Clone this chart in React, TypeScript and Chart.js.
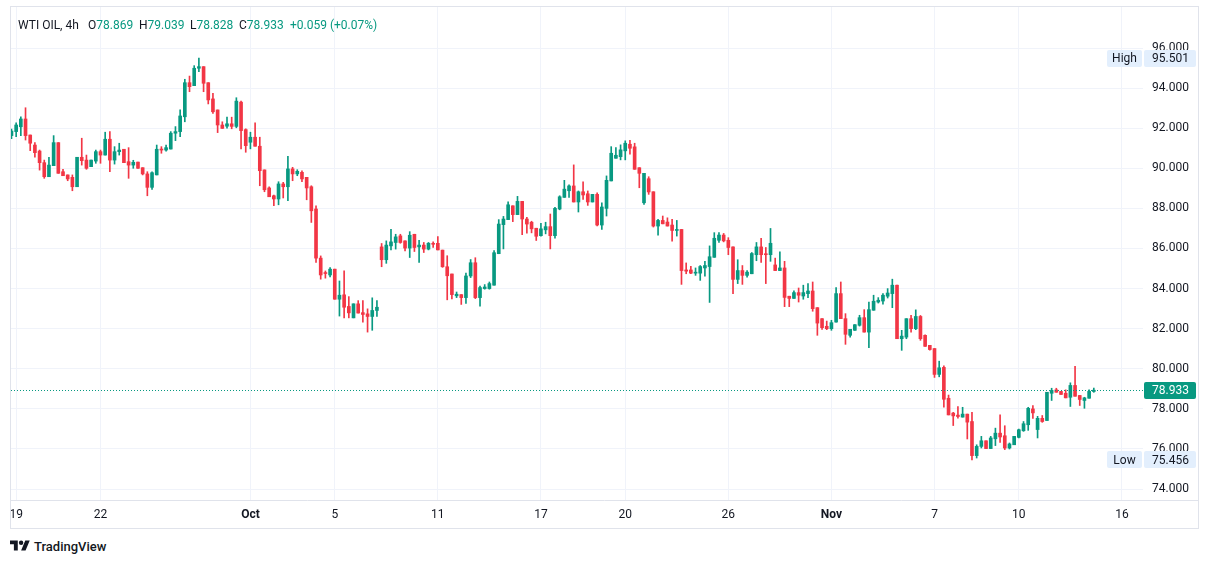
import { useEffect, useRef } from 'react';
import { Chart, registerables } from 'chart.js';

Chart.register(...registerables);

// WTI OIL 4h candles (Sep 19 -> Nov 14)
const opens = [
  91.63, 91.83, 92.07, 92.46, 91.66, 91.16, 90.86, 90.28, 89.58, 90.13,
  91.28, 89.83, 89.67, 89.55, 89.08, 90.55, 90.41, 90.08, 90.36, 90.83,
  90.66, 91.45, 90.41, 90.83, 90.95, 90.33, 90.16, 90.31, 90.03, 89.72,
  89.05, 89.67, 90.96, 90.91, 90.96, 91.75, 91.83, 92.57, 94.27, 94.12,
  94.99, 95.07, 94.27, 93.46, 92.91, 92.16, 92.1, 92.22, 92.09, 93.3,
  91.93, 91.3, 91.55, 91.1, 89.92, 89.02, 88.63, 88.47, 89.22, 89.08,
  89.97, 89.72, 89.8, 89.55, 89.08, 87.97, 85.52, 84.8, 84.68, 84.97,
  83.47, 83.69, 83.11, 82.54, 83.24, 82.8, 82.74, 82.61, 82.91, 86.08,
  85.44, 86.13, 86.3, 86.63, 86.38, 86.02, 86.71, 86.08, 86.17, 85.97,
  86.26, 86.26, 85.92, 85.09, 84.73, 83.64, 83.7, 83.55, 84.63, 85.29,
  83.55, 84.0, 84.0, 84.17, 85.74, 87.19, 87.44, 88.13, 87.69, 88.35,
  87.47, 87.31, 87.01, 86.64, 86.93, 87.09, 86.64, 87.97, 88.55, 88.88,
  89.12, 88.32, 88.83, 88.73, 88.32, 88.7, 87.17, 88.0, 89.37, 90.5,
  90.58, 90.87, 91.2, 91.07, 90.03, 88.28, 89.48, 88.83, 87.12, 87.4,
  87.32, 87.17, 86.9, 86.95, 84.93, 84.93, 84.77, 84.77, 85.03, 85.1,
  85.56, 86.41, 86.67, 86.41, 86.08, 84.46, 84.9, 84.66, 84.74, 85.69,
  86.08, 85.72, 85.69, 85.18, 84.9, 85.03, 83.62, 83.51, 83.8, 83.63,
  83.75, 83.88, 83.05, 82.5, 82.12, 82.0, 82.33, 83.75, 82.5, 81.67,
  81.92, 82.17, 82.55, 81.83, 82.92, 83.33, 83.38, 83.62, 83.75, 84.17,
  81.5, 81.58, 82.5, 82.0, 82.61, 81.67, 81.17, 81.01, 79.72, 80.07,
  78.53, 77.79, 77.69, 77.59, 77.74, 77.37, 75.67, 76.13, 76.41, 76.02,
  76.51, 76.79, 76.66, 76.05, 76.21, 76.58, 76.91, 77.21, 78.0, 76.97,
  77.53, 77.42, 78.78, 78.95, 78.87, 78.78, 78.58, 79.17, 78.67, 78.42,
  78.53, 78.869,
];

const highs = [
  91.95, 92.27, 92.57, 93.02, 91.66, 91.28, 90.91, 90.41, 90.55, 91.63,
  91.28, 89.95, 89.67, 89.67, 90.55, 91.5, 90.66, 90.41, 90.91, 90.91,
  91.8, 91.83, 91.08, 91.25, 90.95, 91.03, 90.4, 90.31, 90.03, 89.83,
  89.83, 91.16, 91.08, 91.16, 91.83, 92.08, 92.91, 94.44, 94.6, 95.12,
  95.501, 95.07, 94.27, 93.74, 92.91, 92.32, 92.55, 92.55, 93.52, 93.35,
  91.97, 91.8, 92.27, 91.55, 89.92, 89.08, 88.67, 89.33, 89.3, 90.6,
  90.05, 89.93, 89.88, 89.55, 89.13, 88.13, 85.63, 84.88, 85.05, 84.97,
  84.38, 84.89, 83.6, 83.24, 83.4, 83.4, 82.99, 83.54, 83.4, 86.25,
  86.38, 86.96, 86.71, 86.71, 86.38, 86.84, 86.71, 86.41, 86.3, 86.3,
  86.33, 86.6, 85.92, 85.64, 84.73, 83.83, 83.7, 84.78, 85.45, 85.54,
  84.13, 84.2, 84.33, 85.9, 87.44, 87.6, 88.33, 88.13, 88.6, 88.35,
  87.55, 87.36, 87.01, 87.26, 87.31, 87.72, 88.05, 88.63, 89.4, 89.17,
  90.17, 88.87, 89.32, 88.87, 88.7, 88.78, 88.28, 89.62, 91.08, 91.03,
  91.17, 91.37, 91.4, 91.25, 90.03, 89.75, 89.58, 88.83, 87.45, 87.62,
  87.53, 87.45, 87.4, 86.95, 85.28, 85.11, 85.03, 85.15, 85.36, 86.13,
  86.79, 86.79, 86.75, 86.54, 86.08, 85.44, 85.15, 84.9, 85.8, 86.3,
  86.51, 86.05, 87.0, 85.52, 85.84, 85.36, 83.62, 83.89, 84.03, 84.17,
  84.25, 84.33, 83.05, 82.5, 82.38, 82.42, 84.05, 84.33, 82.75, 81.97,
  82.2, 82.67, 82.95, 83.33, 83.67, 83.55, 83.75, 84.0, 84.47, 84.17,
  81.92, 82.5, 82.67, 82.94, 82.66, 81.7, 81.17, 81.01, 80.38, 80.15,
  78.69, 77.83, 78.12, 78.08, 77.74, 77.83, 76.21, 76.63, 76.41, 76.63,
  77.04, 77.7, 77.16, 76.3, 76.63, 76.99, 77.37, 78.08, 78.17, 77.63,
  77.67, 78.83, 79.03, 79.03, 78.87, 78.95, 79.3, 80.12, 78.67, 78.58,
  78.95, 79.039,
];

const lows = [
  91.48, 91.58, 91.63, 91.41, 90.88, 90.55, 89.91, 89.5, 89.58, 90.13,
  89.75, 89.63, 89.38, 88.88, 89.08, 90.16, 89.95, 90.08, 90.25, 90.25,
  90.66, 89.83, 90.21, 90.66, 90.28, 89.5, 90.0, 90.0, 89.67, 88.63,
  88.95, 89.67, 90.75, 90.86, 90.96, 91.38, 91.58, 92.32, 93.82, 94.12,
  94.82, 93.82, 93.21, 92.74, 91.78, 91.99, 92.0, 91.97, 92.02, 90.97,
  90.8, 90.97, 91.1, 89.13, 88.83, 88.58, 88.13, 88.18, 88.52, 88.38,
  89.38, 89.63, 89.33, 88.43, 87.3, 85.3, 84.47, 84.52, 84.58, 83.47,
  82.63, 82.54, 82.54, 82.54, 82.78, 82.33, 81.83, 81.92, 82.61, 85.09,
  85.26, 85.93, 85.97, 86.26, 85.88, 85.55, 85.85, 85.31, 85.8, 85.93,
  86.05, 85.93, 85.06, 83.44, 83.49, 83.55, 83.21, 83.26, 84.55, 83.5,
  83.12, 83.97, 83.97, 84.17, 85.74, 85.98, 87.44, 87.34, 87.69, 86.69,
  86.76, 86.78, 86.4, 86.61, 86.73, 85.98, 86.51, 87.93, 88.55, 88.55,
  88.32, 87.82, 88.45, 88.15, 88.32, 87.12, 86.95, 87.62, 89.37, 90.5,
  90.42, 90.42, 90.7, 89.95, 89.03, 88.2, 88.7, 87.07, 86.67, 87.23,
  87.12, 86.37, 86.62, 84.21, 84.74, 84.74, 84.66, 84.41, 84.62, 83.31,
  85.56, 86.3, 86.33, 85.69, 83.75, 84.25, 84.21, 84.57, 84.74, 85.39,
  85.31, 84.25, 85.36, 84.9, 84.9, 83.1, 83.1, 83.51, 83.33, 83.47,
  83.55, 82.87, 81.67, 81.97, 81.95, 81.92, 82.33, 82.5, 81.22, 81.58,
  81.92, 82.13, 81.83, 81.05, 82.92, 83.28, 83.22, 83.53, 83.05, 81.5,
  80.92, 81.5, 81.83, 81.95, 81.42, 81.12, 80.93, 79.57, 79.6, 78.08,
  77.7, 77.17, 77.54, 77.59, 76.5, 75.456, 75.55, 76.05, 76.02, 76.02,
  76.17, 76.33, 75.97, 76.0, 76.21, 76.55, 76.88, 76.93, 77.53, 76.55,
  77.33, 77.42, 78.42, 78.83, 78.72, 78.55, 78.12, 78.63, 78.17, 78.03,
  78.53, 78.828,
];

const closes = [
  91.86, 92.16, 92.46, 91.63, 91.25, 90.78, 90.28, 89.58, 90.16, 91.28,
  89.75, 89.63, 89.47, 89.08, 90.55, 90.38, 90.0, 90.41, 90.83, 90.66,
  91.45, 90.41, 90.83, 90.91, 90.28, 90.16, 90.3, 90.0, 89.72, 89.05,
  89.78, 90.95, 90.91, 91.03, 91.75, 91.83, 92.61, 94.27, 94.07, 94.99,
  95.07, 94.24, 93.41, 92.82, 92.16, 91.99, 92.22, 92.09, 93.35, 91.88,
  91.13, 91.55, 91.1, 89.88, 88.93, 88.58, 88.47, 89.22, 89.08, 89.97,
  89.72, 89.85, 89.47, 89.02, 87.88, 85.52, 84.68, 84.75, 84.97, 83.47,
  83.67, 83.07, 82.79, 83.24, 82.78, 82.71, 82.61, 82.91, 83.07, 85.44,
  86.17, 86.33, 86.58, 86.3, 86.02, 86.66, 86.05, 86.17, 85.97, 86.26,
  86.21, 85.93, 85.09, 84.64, 83.7, 83.72, 83.55, 84.63, 85.29, 83.55,
  84.05, 84.08, 84.25, 85.79, 87.22, 87.47, 88.18, 87.69, 88.35, 87.47,
  87.22, 86.98, 86.61, 86.98, 87.09, 86.64, 88.0, 88.58, 88.96, 89.12,
  88.32, 88.83, 88.67, 88.32, 88.7, 87.17, 88.07, 89.4, 90.75, 90.65,
  90.92, 91.25, 91.0, 89.95, 89.75, 89.75, 88.82, 87.12, 87.4, 87.23,
  87.12, 86.9, 86.95, 84.9, 84.87, 84.77, 84.82, 85.1, 85.15, 85.59,
  86.51, 86.67, 86.38, 86.05, 84.46, 84.9, 84.66, 84.82, 85.75, 86.08,
  85.69, 85.69, 86.26, 84.9, 85.03, 83.56, 83.51, 83.8, 83.67, 83.8,
  83.88, 83.0, 82.28, 82.05, 82.0, 82.3, 83.75, 82.5, 81.72, 81.97,
  82.2, 82.55, 81.83, 82.95, 83.37, 83.42, 83.67, 83.78, 84.17, 81.5,
  81.63, 82.5, 82.0, 82.61, 81.5, 81.12, 80.96, 79.72, 80.05, 78.48,
  77.7, 77.65, 77.62, 77.74, 77.34, 75.67, 76.13, 76.41, 76.02, 76.55,
  76.79, 76.6, 76.05, 76.25, 76.63, 76.96, 77.26, 78.03, 77.8, 77.53,
  77.37, 78.83, 78.92, 78.83, 78.72, 78.55, 79.17, 78.63, 78.47, 78.55,
  78.874, 78.933,
];

// time axis labels and the bar they sit on
const dayLabels = ['19', '22', 'Oct', '5', '11', '17', '20', '26', 'Nov', '7', '10', '16'];
const dayLabelBars = [1, 19, 51, 69, 91, 113, 131, 153, 175, 197, 215, 237];
const monthLabels = ['Oct', 'Nov'];
const priceTicks = [74, 76, 78, 80, 82, 84, 86, 88, 90, 92, 94, 96];

const UP = '#089981';
const DOWN = '#f23645';
const TEXT = '#131722';
const GRID = '#f0f3fa';
const LINE = '#e0e3eb';
const FONT = "-apple-system, BlinkMacSystemFont, 'Trebuchet MS', Roboto, Ubuntu, sans-serif";

const last = opens.length - 1;
const lastClose = closes[last];
const lastColor = closes[last] >= opens[last] ? UP : DOWN;
const change = closes[last] - closes[last - 1];

function drawTag(ctx: CanvasRenderingContext2D, x: number, y: number, w: number, bg: string, text: string, color: string, textX: number, align: CanvasTextAlign) {
  const h = 17;
  ctx.fillStyle = bg;
  ctx.beginPath();
  ctx.roundRect(x, Math.round(y - h / 2), w, h, 2);
  ctx.fill();
  ctx.fillStyle = color;
  ctx.font = `12px ${FONT}`;
  ctx.textAlign = align;
  ctx.textBaseline = 'middle';
  ctx.fillText(text, textX, Math.round(y) + 0.5);
}

const markers = {
  id: 'markers',
  afterDatasetsDraw(chart: Chart) {
    const { ctx, chartArea } = chart;
    const y = Math.round(chart.scales.y.getPixelForValue(lastClose)) + 0.5;
    ctx.save();
    ctx.strokeStyle = lastColor;
    ctx.lineWidth = 1;
    ctx.setLineDash([1, 2]);
    ctx.beginPath();
    ctx.moveTo(chartArea.left, y);
    ctx.lineTo(chartArea.right, y);
    ctx.stroke();
    ctx.restore();
  },
  afterDraw(chart: Chart) {
    const { ctx, chartArea } = chart;
    const yScale = chart.scales.y;
    ctx.save();
    // separator above the time axis
    ctx.strokeStyle = LINE;
    ctx.lineWidth = 1;
    ctx.beginPath();
    ctx.moveTo(0, chartArea.bottom + 0.5);
    ctx.lineTo(chart.width, chartArea.bottom + 0.5);
    ctx.stroke();

    const hi = Math.max(...highs);
    const lo = Math.min(...lows);
    const r = chartArea.right;
    [['High', hi], ['Low', lo]].forEach(([name, v]) => {
      const y = yScale.getPixelForValue(v as number);
      drawTag(ctx, r - 36, y, 35, '#e3effd', name as string, TEXT, r - 18.5, 'center');
      drawTag(ctx, r + 1, y, 52, '#e3effd', (v as number).toFixed(3), TEXT, r + 9, 'left');
    });
    drawTag(ctx, r + 1, yScale.getPixelForValue(lastClose), 52, lastColor, lastClose.toFixed(3), '#ffffff', r + 9, 'left');
    ctx.restore();
  },
};

// stop Chart.js from reserving label overflow room around the plot
function noPadding(axis: any) {
  axis.paddingLeft = 0;
  axis.paddingRight = 0;
  axis.paddingTop = 0;
  axis.paddingBottom = 0;
}

function CandleChart() {
  const canvasRef = useRef<HTMLCanvasElement>(null);

  useEffect(() => {
    if (!canvasRef.current) return;
    const idx = opens.map((_, i) => i);
    const colors = idx.map((i) => (closes[i] >= opens[i] ? UP : DOWN));

    const chart = new Chart(canvasRef.current, {
      type: 'bar',
      data: {
        datasets: [
          {
            label: 'body',
            data: idx.map((i) => ({ x: i, y: [opens[i], closes[i]] })) as any,
            backgroundColor: colors,
            barThickness: 3,
            maxBarThickness: 3,
            minBarLength: 1,
            grouped: false,
          },
          {
            label: 'wick',
            data: idx.map((i) => ({ x: i, y: [lows[i], highs[i]] })) as any,
            backgroundColor: colors,
            barThickness: 1,
            maxBarThickness: 1,
            minBarLength: 1,
            grouped: false,
          },
        ],
      },
      options: {
        responsive: false,
        animation: false,
        events: [],
        layout: { padding: 0, autoPadding: false },
        plugins: { legend: { display: false }, tooltip: { enabled: false }, title: { display: false } },
        scales: {
          x: {
            type: 'linear',
            offset: false,
            bounds: 'data',
            min: -0.1,
            max: 241.5,
            grid: { color: GRID, drawTicks: false, offset: false },
            border: { display: false },
            afterBuildTicks: (axis: any) => {
              axis.ticks = dayLabelBars.map((v) => ({ value: v }));
            },
            afterFit: (axis: any) => {
              axis.height = 28;
              noPadding(axis);
            },
            ticks: {
              autoSkip: false,
              maxRotation: 0,
              padding: 8,
              color: TEXT,
              callback: (_v: any, i: number) => dayLabels[i],
              font: (c: any) => ({
                family: FONT,
                size: 12,
                weight: monthLabels.includes(dayLabels[c.index]) ? 'bold' : 'normal',
              }),
            },
          },
          y: {
            position: 'right',
            bounds: 'data',
            min: 73.456,
            max: 98.045,
            grid: { color: GRID, drawTicks: false },
            border: { display: false },
            afterBuildTicks: (axis: any) => {
              axis.ticks = priceTicks.map((v) => ({ value: v }));
            },
            afterFit: (axis: any) => {
              axis.width = 55;
              noPadding(axis);
            },
            ticks: {
              padding: 9,
              color: TEXT,
              font: { family: FONT, size: 12 },
              callback: (v: any) => Number(v).toFixed(3),
            },
          },
        },
      } as any,
      plugins: [markers],
    });

    return () => chart.destroy();
  }, []);

  return <canvas ref={canvasRef} width={1187} height={521} style={{ display: 'block', width: 1187, height: 521 }} />;
}

const pct = (change / closes[last - 1]) * 100;
const headerItems = [
  { left: 18, parts: [['WTI OIL, 4h', TEXT]] },
  { left: 88, parts: [['O', TEXT], [opens[last].toFixed(3), lastColor]] },
  { left: 139, parts: [['H', TEXT], [highs[last].toFixed(3), lastColor]] },
  { left: 190, parts: [['L', TEXT], [lows[last].toFixed(3), lastColor]] },
  { left: 239, parts: [['C', TEXT], [closes[last].toFixed(3), lastColor]] },
  {
    left: 290,
    parts: [[`${change >= 0 ? '+' : ''}${change.toFixed(3)} (${pct >= 0 ? '+' : ''}${pct.toFixed(2)}%)`, lastColor]],
  },
];

export default function App() {
  return (
    <div style={{ position: 'absolute', left: 0, top: 0, width: 1209, height: 564, background: '#ffffff', overflow: 'hidden', fontFamily: FONT }}>
      <div style={{ position: 'absolute', left: 10, top: 6, border: `1px solid ${LINE}` }}>
        <CandleChart />
      </div>
      {headerItems.map((h) => (
        <div key={h.left} style={{ position: 'absolute', left: h.left, top: 17, fontSize: 12, lineHeight: '16px', whiteSpace: 'nowrap' }}>
          {h.parts.map(([t, c], i) => (
            <span key={i} style={{ color: c }}>{t}</span>
          ))}
        </div>
      ))}
      <div style={{ position: 'absolute', left: 10, top: 538, display: 'flex', alignItems: 'center', gap: 4, color: TEXT }}>
        <svg width="20" height="16" viewBox="0 0 36 28" fill={TEXT}>
          <path d="M14 22H7V11H0V4h14v18zM28 22h-8l7.5-18h8L28 22z" />
          <circle cx="20" cy="8" r="4" />
        </svg>
        <span style={{ fontSize: 13, fontWeight: 500 }}>TradingView</span>
      </div>
    </div>
  );
}
